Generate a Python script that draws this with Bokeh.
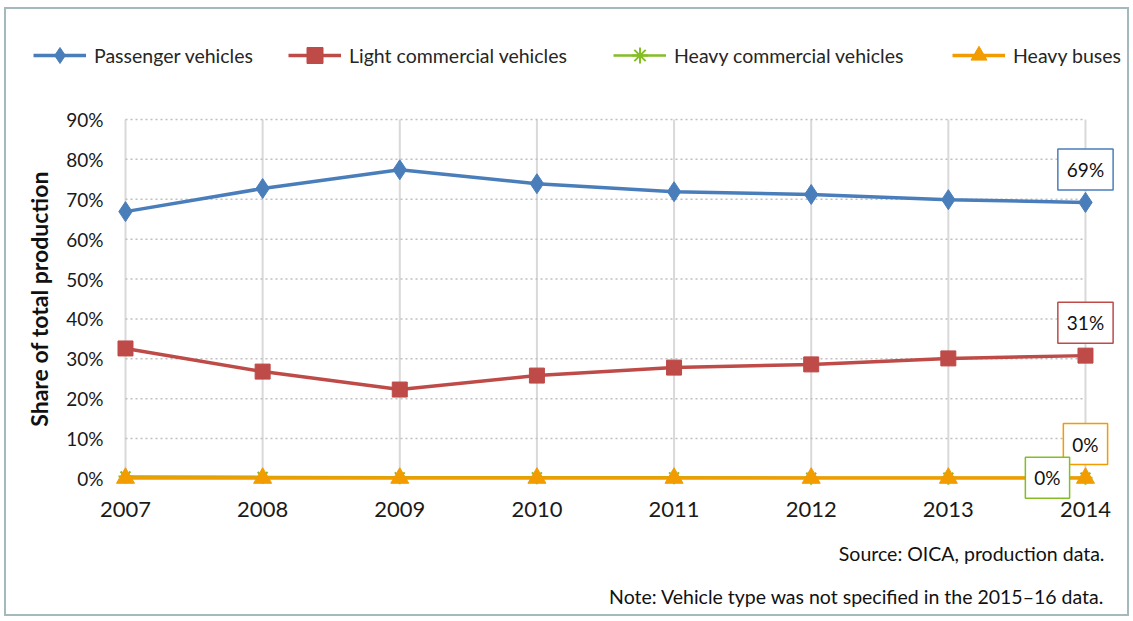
from bokeh.plotting import figure
from bokeh.models import Range1d, FixedTicker, Legend, LegendItem, Label
from bokeh.embed import file_html
from bokeh.resources import INLINE

years = [2007, 2008, 2009, 2010, 2011, 2012, 2013, 2014]
passenger = [66.9, 72.7, 77.4, 73.9, 71.9, 71.2, 69.9, 69.2]
light_comm = [32.6, 26.8, 22.3, 25.8, 27.8, 28.6, 30.1, 30.8]
heavy_comm = [0.5, 0.4, 0.3, 0.3, 0.3, 0.2, 0.2, 0.2]
heavy_buses = [0.1, 0.1, 0.1, 0.1, 0.1, 0.1, 0.1, 0.1]
y_ticks = [0, 10, 20, 30, 40, 50, 60, 70, 80, 90]
y_tick_labels = ["0%", "10%", "20%", "30%", "40%", "50%", "60%", "70%", "80%", "90%"]
x_tick_labels = ["2007", "2008", "2009", "2010", "2011", "2012", "2013", "2014"]
series_names = ["Passenger vehicles", "Light commercial vehicles",
                "Heavy commercial vehicles", "Heavy buses"]
end_labels = ["69%", "31%", "0%", "0%"]
source_text = "Source: OICA, production data."
note_text = "Note: Vehicle type was not specified in the 2015\u201316 data."

FONT = "Lato"
BLUE = "#4a7ebb"
RED = "#be4b48"
GREEN = "#84bd24"
ORANGE = "#f39c00"

# the frame fills the whole canvas; axes are pinned inside it
p = figure(width=1125, height=609, output_backend="svg", toolbar_location=None,
           x_range=Range1d(2006.1323, 2014.3356), y_range=Range1d(-35.10, 117.57),
           min_border=0)
p.styles = {"border": "2px solid #a3b9bb", "margin-left": "4px", "margin-top": "7px"}
p.outline_line_color = None
p.xgrid.visible = False
p.ygrid.visible = False
p.background_fill_color = "white"

# gridlines
p.segment(x0=years, y0=[y_ticks[0]] * len(years), x1=years, y1=[y_ticks[-1]] * len(years),
          line_color="#d9d9d9", line_width=2)
p.segment(x0=[years[0]] * (len(y_ticks) - 1), y0=y_ticks[1:],
          x1=[years[-1]] * (len(y_ticks) - 1), y1=y_ticks[1:],
          line_color="#bfbfbf", line_width=1.5, line_dash="2 3")

# axes
p.xaxis.ticker = FixedTicker(ticks=years)
p.xaxis.major_label_overrides = {y: s for y, s in zip(years, x_tick_labels)}
p.xaxis.fixed_location = -5.0
p.xaxis.bounds = (years[0], years[-1])
p.yaxis.ticker = FixedTicker(ticks=y_ticks)
p.yaxis.major_label_overrides = {y: s for y, s in zip(y_ticks, y_tick_labels)}
p.yaxis.fixed_location = 2006.9125
p.yaxis.bounds = (y_ticks[0], y_ticks[-1])
for ax in (p.xaxis, p.yaxis):
    ax.axis_line_color = None
    ax.major_tick_line_color = None
    ax.minor_tick_line_color = None
    ax.major_tick_out = 0
    ax.major_tick_in = 0
    ax.major_label_text_font = FONT
    ax.major_label_text_color = "#1a1a1a"
p.xaxis.major_label_text_font_size = "22px"
p.yaxis.major_label_text_font_size = "19px"
p.xaxis.major_label_standoff = 4
p.yaxis.major_label_standoff = 10
p.yaxis.axis_label = "Share of total production"
p.yaxis.axis_label_text_font = FONT
p.yaxis.axis_label_text_font_size = "23px"
p.yaxis.axis_label_text_font_style = "bold"
p.yaxis.axis_label_text_color = "#111111"
p.yaxis.axis_label_standoff = 10

# series
g_line = p.line(years, heavy_comm, line_color=GREEN, line_width=2.5)
g_mk = p.scatter(years, heavy_comm, marker="asterisk", size=14, line_color=GREEN, line_width=2)
o_line = p.line(years, heavy_buses, line_color=ORANGE, line_width=3.5)
o_mk = p.scatter(years, heavy_buses, marker="triangle", size=18, fill_color=ORANGE, line_color=ORANGE)
r_line = p.line(years, light_comm, line_color=RED, line_width=3.5)
r_mk = p.scatter(years, light_comm, marker="square", size=15, fill_color=RED, line_color=RED)
b_line = p.line(years, passenger, line_color=BLUE, line_width=3.5)
b_mk = p.scatter(years, passenger, marker="diamond", size=20, fill_color=BLUE, line_color=BLUE)

# legends (one per entry)
legend_specs = [
    (series_names[0], [b_line, b_mk], 27),
    (series_names[1], [r_line, r_mk], 282),
    (series_names[2], [g_line, g_mk], 607),
    (series_names[3], [o_line, o_mk], 946),
]
for name, rends, lx in legend_specs:
    p.add_layout(Legend(items=[LegendItem(label=name, renderers=rends)], location=(lx, 543),
                        orientation="horizontal", padding=0, margin=0, spacing=0,
                        glyph_width=53, glyph_height=40, label_standoff=8,
                        label_text_font=FONT, label_text_font_size="19.5px",
                        label_text_color="#262626", border_line_color=None,
                        background_fill_alpha=0), "center")

# end-point data labels
label_specs = [
    (passenger[-1], end_labels[0], BLUE, 0, 33),
    (light_comm[-1], end_labels[1], RED, 0, 33),
    (heavy_buses[-1], end_labels[3], ORANGE, 0, 34),
    (heavy_comm[-1], end_labels[2], GREEN, -38, 0),
]
for yv, txt, col, xo, yo in label_specs:
    p.add_layout(Label(x=years[-1], y=yv, x_offset=xo, y_offset=yo, text=txt,
                       text_align="center", text_baseline="middle",
                       text_font=FONT, text_font_size="19px", text_color="#111111",
                       border_line_color=col, border_line_width=1.5,
                       background_fill_color="white", padding=9))

# source / note
for txt, ys in ((source_text, 65), (note_text, 22)):
    p.add_layout(Label(x=years[-1], y=ys, x_offset=19, y_units="screen", text=txt,
                       text_align="right", text_baseline="middle", text_font=FONT,
                       text_font_size="19.5px", text_color="#111111"))

open("out.html", "w").write(file_html(p, INLINE))
